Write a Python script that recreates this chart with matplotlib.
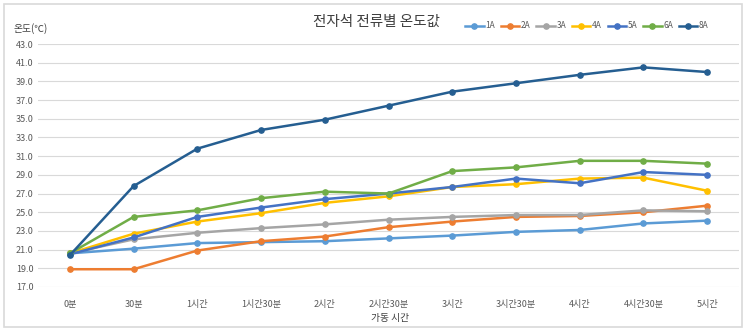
import matplotlib.pyplot as plt
from matplotlib.patches import Rectangle

plt.rcParams['font.family'] = ['Noto Sans CJK KR', 'DejaVu Sans']

# 가동 시간 (categories)
times = ['0분', '30분', '1시간', '1시간30분', '2시간', '2시간30분', '3시간',
         '3시간30분', '4시간', '4시간30분', '5시간']

# 전류별 온도값 (℃)
temp_1a = [20.6, 21.1, 21.7, 21.8, 21.9, 22.2, 22.5, 22.9, 23.1, 23.8, 24.1]
temp_2a = [18.9, 18.9, 20.9, 21.9, 22.4, 23.4, 24.0, 24.5, 24.6, 25.0, 25.7]
temp_3a = [20.6, 22.1, 22.8, 23.3, 23.7, 24.2, 24.5, 24.7, 24.7, 25.2, 25.1]
temp_4a = [20.6, 22.7, 24.0, 24.9, 26.0, 26.7, 27.7, 28.0, 28.6, 28.7, 27.3]
temp_5a = [20.5, 22.3, 24.5, 25.5, 26.4, 27.0, 27.7, 28.6, 28.1, 29.3, 29.0]
temp_6a = [20.6, 24.5, 25.2, 26.5, 27.2, 27.0, 29.4, 29.8, 30.5, 30.5, 30.2]
temp_8a = [20.4, 27.8, 31.8, 33.8, 34.9, 36.4, 37.9, 38.8, 39.7, 40.5, 40.0]

series = [('1A', temp_1a, '#5B9BD5'), ('2A', temp_2a, '#ED7D31'),
          ('3A', temp_3a, '#A5A5A5'), ('4A', temp_4a, '#FFC000'),
          ('5A', temp_5a, '#4472C4'), ('6A', temp_6a, '#70AD47'),
          ('8A', temp_8a, '#255E91')]

fig = plt.figure(figsize=(7.53, 3.32), dpi=100)
ax = fig.add_axes([38 / 753, 45 / 332, 701 / 753, 243 / 332])

x = list(range(len(times)))
for name, vals, col in series:
    ax.plot(x, vals, color=col, lw=1.8, marker='o', markersize=3.8, label=name)

ax.set_xlim(-0.5, len(times) - 0.5)
ax.set_ylim(17, 43)
ax.set_yticks(range(17, 44, 2))
ax.set_yticklabels([f'{v:.1f}' for v in range(17, 44, 2)])
ax.set_xticks(x)
ax.set_xticklabels(times)
ax.grid(axis='y', color='#D9D9D9', lw=0.8)
ax.set_axisbelow(True)
for s in ax.spines.values():
    s.set_visible(False)
ax.tick_params(axis='both', length=0, labelsize=6.5, labelcolor='#595959')
ax.tick_params(axis='x', pad=9)
ax.tick_params(axis='y', pad=3)

fig.text(376 / 753, 1 - 22 / 332, '전자석 전류별 온도값', ha='center', va='center',
         fontsize=10.5, color='#404040')
fig.text(14 / 753, 1 - 29 / 332, '온도(℃)', ha='left', va='center',
         fontsize=7, color='#404040')
fig.text(390 / 753, 1 - 318 / 332, '가동 시간', ha='center', va='center',
         fontsize=7, color='#404040')

fig.legend(loc='center', bbox_to_anchor=(587 / 753, 1 - 26 / 332), ncol=7,
           frameon=False, fontsize=6, labelcolor='#595959', handlelength=2.2,
           handletextpad=0.2, columnspacing=0.7, borderaxespad=0)

fig.patches.append(Rectangle((4 / 753, 5 / 332), 738 / 753, 323 / 332,
                             transform=fig.transFigure, fill=False,
                             edgecolor='#D9D9D9', lw=1.2))

fig.savefig('out.png', dpi=100)
